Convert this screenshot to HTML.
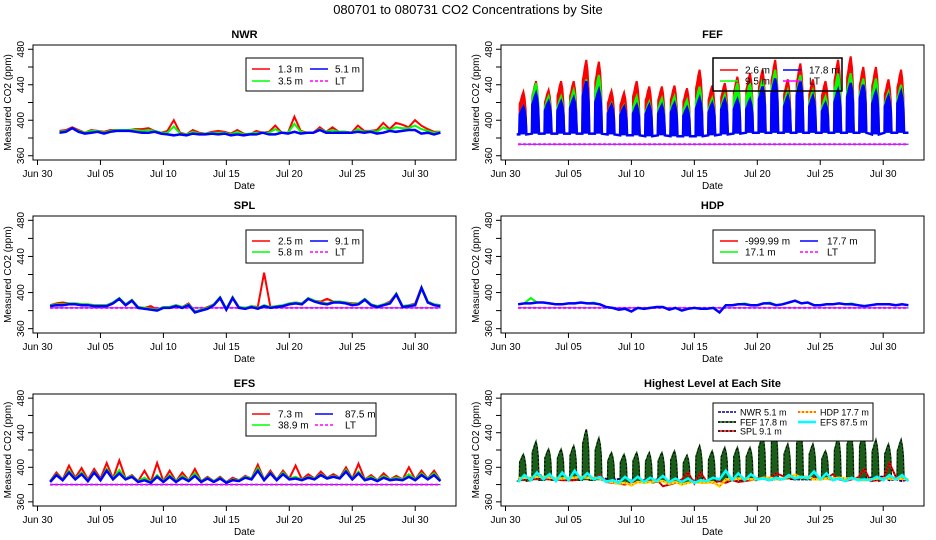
<!DOCTYPE html>
<html><head><meta charset="utf-8"><style>
html,body{margin:0;padding:0;background:#fff;}
svg{display:block;font-family:"Liberation Sans",Arial,sans-serif;}
</style></head><body>
<svg id="chart" width="936" height="540" viewBox="0 0 936 540">
<rect x="0" y="0" width="936" height="540" fill="#fff"/>
<text x="468" y="14" text-anchor="middle" font-size="13">080701  to  080731 CO2 Concentrations by Site</text>
</svg>
<script>
// ---------- data ----------
const tickLabels = ["Jun 30","Jul 05","Jul 10","Jul 15","Jul 20","Jul 25","Jul 30"];
const tickDays = [0,5,10,15,20,25,30];
const yTicks = [360,400,440,480];
// NWR (half-day values from day 1.75 to 32)
const nwrBlue = [386,387,391,387,385,386,387,385,387,388,388,388,387,386,386,387,385,384,383,384,383,385,384,384,385,384,385,383,384,383,384,384,386,384,384,386,385,387,385,386,386,389,386,386,386,386,386,387,386,387,385,386,388,387,388,389,389,385,386,384,386];
const nwrGreen = [387,388,391,388,386,388,388,386,388,389,389,389,389,388,389,388,386,386,393,385,384,387,385,385,386,386,386,384,387,384,385,386,386,386,390,386,386,396,387,386,386,390,387,389,387,387,386,390,387,388,387,392,389,392,391,391,394,390,388,386,387];
const nwrRed = [388,389,392,389,386,389,388,387,389,389,389,389,390,390,391,388,386,388,400,386,384,389,386,385,387,388,387,385,389,385,384,388,386,387,394,386,386,404,388,386,386,392,387,392,387,387,386,394,388,388,389,397,390,397,395,392,400,394,390,387,387];
// FEF (per day, days 1..31)
const fefRedPeak = [432,444,434,444,444,468,466,433,431,444,438,438,439,436,457,439,442,449,453,457,468,446,464,446,444,468,472,460,460,446,457];
const fefGreenPeak = [416,442,427,427,434,446,451,419,417,427,421,425,427,423,438,425,429,442,442,446,457,434,451,434,427,453,453,447,447,432,440];
const fefBluePeak = [415,430,421,421,425,444,434,417,415,417,417,417,419,414,425,419,423,423,423,438,447,427,444,427,419,434,442,440,432,427,432];
const fefBase = [384,385,385,385,385,385,385,384,383,383,382,383,382,382,382,383,384,385,386,386,386,386,386,386,386,386,386,386,384,386,386];
const fefLT = 373;
// SPL (half-day values, day 1.0 to 32.0)
const splBlue = [385,386,386,387,387,386,386,385,385,385, 388,393,386,391,383,382,381,380,383,383, 385,383,386,378,380,382,386,394,381,394, 383,382,384,382,385,383,384,385,387,388, 387,393,390,388,387,389,389,388,386,387, 392,386,384,386,388,398,384,385,386,405, 389,386,385];
const splGreen = [386,387,387,388,388,387,387,386,386,386, 389,394,387,392,384,383,382,381,384,384, 386,384,387,379,381,383,387,395,382,395, 384,383,385,383,386,384,385,386,388,389, 388,394,391,389,388,390,390,389,387,388, 393,387,385,387,389,399,385,386,387,406, 390,387,386];
const splRed = [386,388,389,388,388,387,387,386,386,386, 389,394,387,392,384,383,385,381,384,384, 386,384,388,379,381,384,387,395,382,395, 384,383,385,384,422,384,385,386,388,389, 388,394,391,390,393,390,390,389,388,388, 393,387,385,387,390,399,385,386,388,406, 390,387,386];
const splLT = 383;
// HDP
const hdpBlue = [387,388,388,389,389,388,387,387,388,388, 389,388,388,387,384,383,381,382,379,383, 382,383,384,384,381,383,380,382,383,382, 382,383,378,386,386,387,387,386,386,388, 388,386,387,389,391,388,389,386,386,387, 387,388,387,387,386,385,386,387,387,387, 386,387,386];
const hdpGreen = [387,388,394,389,389,388,387,387,388,388, 389,388,389,387,384,383,381,382,379,383, 382,383,384,384,381,383,380,382,383,382, 382,383,378,386,386,387,388,386,386,388, 389,386,387,389,391,388,389,386,386,387, 387,388,387,388,386,385,386,387,387,387, 386,387,386];
const hdpLT = 383;
// EFS
const efsBlue = [383,391,385,394,386,392,384,394,385,396, 386,393,386,389,383,385,382,389,383,389, 383,388,384,390,383,387,383,387,382,385, 384,388,386,396,385,393,385,392,386,387, 385,388,386,391,387,389,387,395,386,393, 385,387,384,388,385,386,385,389,385,391, 386,391,384];
const efsGreen = [384,392,386,396,387,394,385,395,386,398, 387,397,387,390,384,388,383,391,384,391, 384,390,385,393,384,388,384,388,383,386, 385,389,387,399,386,394,386,394,387,389, 386,389,387,392,388,390,388,397,387,395, 386,389,385,390,386,388,386,392,386,393, 387,393,385];
const efsRed = [384,394,386,402,388,399,386,398,387,405, 387,408,387,391,384,396,383,405,384,396, 384,394,385,398,384,389,384,389,383,388, 385,390,387,403,386,396,386,396,387,402, 386,392,387,395,388,392,388,400,387,404, 386,391,385,393,386,390,386,400,386,396, 387,396,385];
const efsLT = 380;

// ---------- drawing ----------
const NS = "http://www.w3.org/2000/svg";
const svg = document.getElementById('chart');
function mk(tag, attrs, parent) {
  const e = document.createElementNS(NS, tag);
  for (const k in attrs) e.setAttribute(k, attrs[k]);
  (parent || svg).appendChild(e);
  return e;
}
function makeScales(bx, by, bw, bh) {
  return {
    x: d => bx + 4.5 + d * 12.59,
    y: v => by + bh - (v - 355.2) / 129.6 * bh
  };
}
function seriesPts(vals, t0, t1) {
  const n = vals.length;
  return vals.map((v, i) => [t0 + (t1 - t0) * i / (n - 1), v]);
}
function fefDay(peaks, i) {
  const d = i + 1, b = fefBase[i], h = peaks[i] - b;
  return [[d + 0.10, b], [d + 0.13, b + h * 0.72], [d + 0.22, b + h * 0.80], [d + 0.30, b + h * 0.90],
          [d + 0.42, peaks[i]], [d + 0.52, b + h * 0.85], [d + 0.60, b + h * 0.60], [d + 0.66, b]];
}
function fefPts(peaks) {
  let p = [[0.9, fefBase[0]]];
  for (let i = 0; i < peaks.length; i++) p = p.concat(fefDay(peaks, i));
  p.push([32, fefBase[fefBase.length - 1]]);
  return p;
}
function pathD(sc, pts) {
  return pts.map((p, i) => (i ? 'L' : 'M') + sc.x(p[0]).toFixed(1) + ',' + sc.y(p[1]).toFixed(1)).join('');
}
function drawSeries(g, sc, pts, color, w, dash, name) {
  const a = {d: pathD(sc, pts), fill: 'none', stroke: color, 'stroke-width': w, 'stroke-linejoin': 'miter'};
  if (dash) a['stroke-dasharray'] = dash;
  const e = mk('path', a, g);
  
  
  return e;
}
function drawFef(g, sc, peaks, color, name, w) {
  drawSeries(g, sc, fefPts(peaks), color, w || 2, null, name);
  for (let i = 0; i < peaks.length; i++) {
    const e = mk('path', {d: pathD(sc, fefDay(peaks, i)) + 'Z', fill: color, stroke: 'none'}, g);
    
    
  }
}
function drawLT(g, sc, val, name) {
  const x1 = sc.x(1.0), x2 = sc.x(32.0), yy = sc.y(val);
  const a = mk('line', {x1: x1, x2: x2, y1: yy, y2: yy, stroke: '#2020ff', 'stroke-width': 1}, g);
  
  
  const b = mk('line', {x1: x1, x2: x2, y1: yy, y2: yy, stroke: '#ff00ff', 'stroke-width': 2, 'stroke-dasharray': '3,2'}, g);
  
  
}
function panel(key, title, bx, by, bw, bh) {
  const g = mk('g', {});
  
  
  const sc = makeScales(bx, by, bw, bh);
  const t = mk('text', {x: bx + bw / 2, y: by - 7, 'text-anchor': 'middle', 'font-size': 11, 'font-weight': 'bold'}, g);
  t.textContent = title;
  
  
  const box = mk('rect', {x: bx, y: by, width: bw, height: bh, fill: 'none', stroke: '#000', 'stroke-width': 1}, g);
  
  
  const xa = mk('line', {x1: sc.x(0), x2: sc.x(30), y1: by + bh, y2: by + bh, stroke: '#000'}, g);
  
  
  tickDays.forEach((d, i) => {
    const tk = mk('line', {x1: sc.x(d), x2: sc.x(d), y1: by + bh, y2: by + bh + 5, stroke: '#000'}, g);
    
    
    const tl = mk('text', {x: sc.x(d), y: by + bh + 17, 'text-anchor': 'middle', 'font-size': 10}, g);
    tl.textContent = tickLabels[i];
    
    
  });
  const xt = mk('text', {x: bx + bw / 2, y: by + bh + 29, 'text-anchor': 'middle', 'font-size': 10}, g);
  xt.textContent = 'Date';
  
  
  const ya = mk('line', {x1: bx, x2: bx, y1: sc.y(360), y2: sc.y(480), stroke: '#000'}, g);
  
  
  for (let v = 360; v <= 480; v += 20) {
    const tk = mk('line', {x1: bx - 5, x2: bx, y1: sc.y(v), y2: sc.y(v), stroke: '#000'}, g);
    
    
  }
  yTicks.forEach(v => {
    const yy = sc.y(v);
    const tl = mk('text', {x: bx - 9, y: yy, 'text-anchor': 'middle', 'font-size': 10, transform: 'rotate(-90 ' + (bx - 9) + ' ' + yy + ')'}, g);
    tl.textContent = v;
    
    
  });
  const lx = bx - 22, ly = by + bh / 2;
  const yt = mk('text', {x: lx, y: ly, 'text-anchor': 'middle', 'font-size': 10, transform: 'rotate(-90 ' + lx + ' ' + ly + ')'}, g);
  yt.textContent = 'Measured CO2 (ppm)';
  
  
  const clipId = 'clip-' + key;
  const cp = mk('clipPath', {id: clipId}, g);
  mk('rect', {x: bx, y: by, width: bw, height: bh}, cp);
  const plot = mk('g', {'clip-path': 'url(#' + clipId + ')'}, g);
  
  
  return {g: g, plot: plot, sc: sc};
}
function legend(g, key, x, y, w, h, items, fs, sw) {
  const lg = mk('g', {}, g);
  
  
  const r = mk('rect', {x: x, y: y, width: w, height: h, fill: '#fff', stroke: '#000', 'stroke-width': sw || 1}, lg);
  
  
  items.forEach(it => {
    const ln = mk('line', {x1: it.lx, x2: it.lx + 18, y1: it.y, y2: it.y, stroke: it.c, 'stroke-width': it.w || 1.5}, lg);
    if (it.dash) ln.setAttribute('stroke-dasharray', it.dash);
    
    
    if (it.c2) {
      const l2 = mk('line', {x1: it.lx, x2: it.lx + 18, y1: it.y, y2: it.y, stroke: it.c2, 'stroke-width': 1.5, 'stroke-dasharray': '2,2'}, lg);
      
      
    }
    const tx = mk('text', {x: it.tx, y: it.y + 3.5, 'font-size': fs || 10}, lg);
    tx.textContent = it.t;
    
    
  });
}

// NWR
let p = panel('nwr', 'NWR', 33, 45, 423, 115);
drawSeries(p.plot, p.sc, seriesPts(nwrRed, 1.75, 32), '#ff0000', 2, null, 'nwr-1.3m-line');
drawSeries(p.plot, p.sc, seriesPts(nwrGreen, 1.75, 32), '#00ff00', 2, null, 'nwr-3.5m-line');
drawSeries(p.plot, p.sc, seriesPts(nwrBlue, 1.75, 32), '#0000ff', 2.5, null, 'nwr-5.1m-line');
legend(p.g, 'nwr', 246, 58, 117, 33, [
  {lx: 252, tx: 278, y: 69, c: '#f00', t: '1.3 m'}, {lx: 310, tx: 335, y: 69, c: '#00f', t: '5.1 m'},
  {lx: 252, tx: 278, y: 81, c: '#0f0', t: '3.5 m'}, {lx: 310, tx: 335, y: 81, c: '#f0f', t: 'LT', dash: '3,2'}]);

// FEF
p = panel('fef', 'FEF', 501, 45, 423, 115);
drawLT(p.plot, p.sc, fefLT, 'fef-lt-line');
drawFef(p.plot, p.sc, fefRedPeak, '#ff0000', 'fef-2.6m-line');
drawFef(p.plot, p.sc, fefGreenPeak, '#00ff00', 'fef-9.5m-line');
drawFef(p.plot, p.sc, fefBluePeak, '#0000ff', 'fef-17.8m-line', 2.5);
const fefLeg = mk('g', {}, p.g);


const fefBox = mk('rect', {x: 713, y: 58, width: 129, height: 33, fill: 'none', stroke: '#000', 'stroke-width': 1.5}, fefLeg);


[{lx: 720, tx: 745, y: 70, c: '#f00', t: '2.6 m'}, {lx: 783, tx: 809, y: 70, c: '#00f', t: '17.8 m'},
 {lx: 720, tx: 745, y: 81, c: '#0f0', t: '9.5 m'}, {lx: 783, tx: 809, y: 81, c: '#f0f', t: 'LT'}].forEach(it => {
  const ln = mk('line', {x1: it.lx, x2: it.lx + 18, y1: it.y, y2: it.y, stroke: it.c, 'stroke-width': 1.5}, fefLeg);
  
  
  const tx = mk('text', {x: it.tx, y: it.y + 3.5, 'font-size': 10}, fefLeg);
  tx.textContent = it.t;
  
  
});

// SPL
p = panel('spl', 'SPL', 33, 216, 423, 117);
drawLT(p.plot, p.sc, splLT, 'spl-lt-line');
drawSeries(p.plot, p.sc, seriesPts(splRed, 1, 32), '#ff0000', 2, null, 'spl-2.5m-line');
drawSeries(p.plot, p.sc, seriesPts(splGreen, 1, 32), '#00ff00', 2, null, 'spl-5.8m-line');
drawSeries(p.plot, p.sc, seriesPts(splBlue, 1, 32), '#0000ff', 2.5, null, 'spl-9.1m-line');
legend(p.g, 'spl', 246, 230, 117, 33, [
  {lx: 252, tx: 278, y: 241, c: '#f00', t: '2.5 m'}, {lx: 310, tx: 335, y: 241, c: '#00f', t: '9.1 m'},
  {lx: 252, tx: 278, y: 252, c: '#0f0', t: '5.8 m'}, {lx: 310, tx: 335, y: 252, c: '#f0f', t: 'LT', dash: '3,2'}]);

// HDP
p = panel('hdp', 'HDP', 501, 216, 423, 117);
drawLT(p.plot, p.sc, hdpLT, 'hdp-lt-line');
drawSeries(p.plot, p.sc, seriesPts(hdpGreen, 1, 32), '#00ff00', 2, null, 'hdp-17.1m-line');
drawSeries(p.plot, p.sc, seriesPts(hdpBlue, 1, 32), '#0000ff', 2.5, null, 'hdp-17.7m-line');
legend(p.g, 'hdp', 713, 230, 162, 33, [
  {lx: 720, tx: 745, y: 241, c: '#f00', t: '-999.99 m'}, {lx: 800, tx: 827, y: 241, c: '#00f', t: '17.7 m'},
  {lx: 720, tx: 745, y: 252, c: '#0f0', t: '17.1 m'}, {lx: 800, tx: 827, y: 252, c: '#f0f', t: 'LT', dash: '3,2'}]);

// EFS
p = panel('efs', 'EFS', 33, 394, 423, 112);
drawLT(p.plot, p.sc, efsLT, 'efs-lt-line');
drawSeries(p.plot, p.sc, seriesPts(efsRed, 1, 32), '#ff0000', 2, null, 'efs-7.3m-line');
drawSeries(p.plot, p.sc, seriesPts(efsGreen, 1, 32), '#00ff00', 2, null, 'efs-38.9m-line');
drawSeries(p.plot, p.sc, seriesPts(efsBlue, 1, 32), '#0000ff', 2.5, null, 'efs-87.5m-line');
legend(p.g, 'efs', 246, 403, 130, 33, [
  {lx: 252, tx: 278, y: 414, c: '#f00', t: '7.3 m'}, {lx: 315, tx: 345, y: 414, c: '#00f', t: '87.5 m'},
  {lx: 252, tx: 278, y: 425, c: '#0f0', t: '38.9 m'}, {lx: 315, tx: 345, y: 425, c: '#f0f', t: 'LT', dash: '3,2'}]);

// Highest level
p = panel('highest', 'Highest Level at Each Site', 501, 394, 423, 112);
drawSeries(p.plot, p.sc, seriesPts(nwrBlue, 1.75, 32), '#00008b', 2, '3,1', 'highest-nwr-line');
drawFef(p.plot, p.sc, fefBluePeak, '#1a5e1a', 'highest-fef-line', 1.5);
drawSeries(p.plot, p.sc, fefPts(fefBluePeak), '#000000', 1, '2,2', 'highest-fef-line-pattern');
drawSeries(p.plot, p.sc, seriesPts(splBlue, 1, 32), '#ff0000', 2, null, 'highest-spl-line');
drawSeries(p.plot, p.sc, seriesPts(splBlue, 1, 32), '#000000', 1, '1,2', 'highest-spl-line-pattern');
drawSeries(p.plot, p.sc, seriesPts(hdpBlue, 1, 32), '#ffd700', 2.5, null, 'highest-hdp-line');
drawSeries(p.plot, p.sc, seriesPts(hdpBlue, 1, 32), '#ff4500', 1, '1,3', 'highest-hdp-line-pattern');
drawSeries(p.plot, p.sc, seriesPts(efsBlue, 1, 32), '#00ffff', 2.5, null, 'highest-efs-line');
legend(p.g, 'highest', 713, 403, 160, 38, [
  {lx: 718, tx: 740, y: 412, c: '#00008b', t: 'NWR  5.1 m', dash: '3,1'},
  {lx: 798, tx: 820, y: 412, c: '#ffd700', c2: '#ff4500', t: 'HDP  17.7 m'},
  {lx: 718, tx: 740, y: 422, c: '#006400', c2: '#000', t: 'FEF  17.8 m'},
  {lx: 798, tx: 820, y: 422, c: '#00ffff', t: 'EFS  87.5 m', w: 2.5},
  {lx: 718, tx: 740, y: 431, c: '#ff0000', c2: '#000', t: 'SPL  9.1 m'}], 9);
</script>
</body></html>
